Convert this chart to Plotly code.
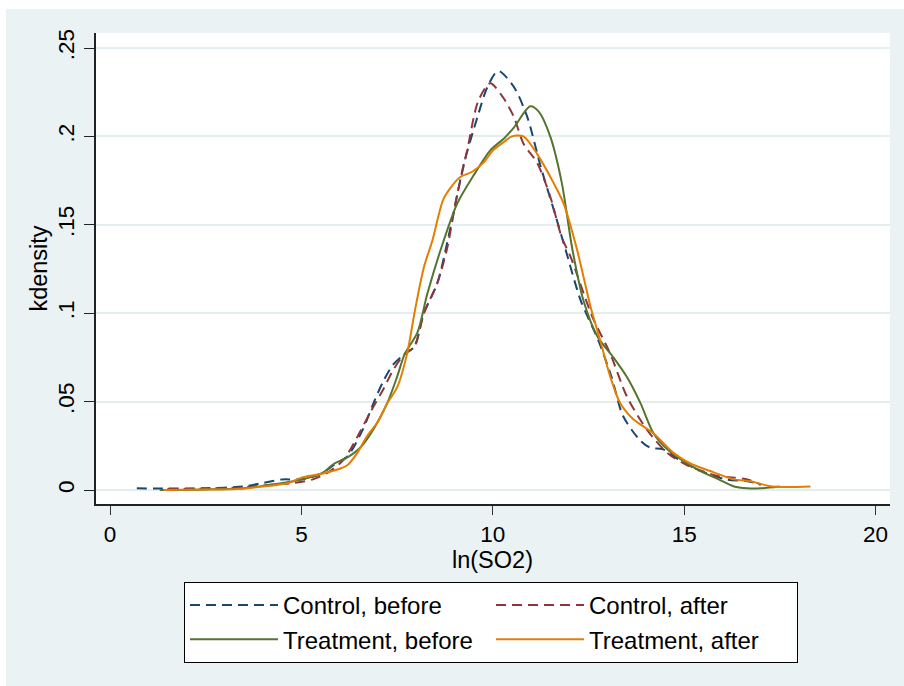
import plotly.graph_objects as go

# ---- data ----
cb_x = [0.7, 1.5, 2.5, 3.5, 4.0, 4.5, 5.0, 5.5, 5.9, 6.2, 6.6, 6.9, 7.15, 7.4, 7.7, 7.95, 8.2, 8.55, 8.9,
        9.25, 9.6, 9.86, 10.14, 10.55, 10.9, 11.25, 11.6, 11.9, 12.3, 12.75, 13.1, 13.4, 13.85, 14.1, 14.45,
        14.8, 15.4, 16.1, 16.65, 17.0]
cb_y = [0.001, 0.0008, 0.001, 0.002, 0.004, 0.006, 0.006, 0.009, 0.015, 0.019, 0.034, 0.05, 0.062, 0.071,
        0.077, 0.081, 0.1, 0.117, 0.149, 0.185, 0.211, 0.228, 0.237, 0.228, 0.211, 0.183, 0.158, 0.136,
        0.107, 0.085, 0.064, 0.042, 0.028, 0.024, 0.023, 0.018, 0.011, 0.006, 0.005, 0.003]

ca_x = [1.5, 2.5, 3.5, 4.2, 4.8, 5.3, 5.7, 6.1, 6.46, 6.8, 7.14, 7.4, 7.7, 7.95, 8.2, 8.55, 8.8, 9.05, 9.33,
        9.62, 9.93, 10.27, 10.55, 10.8, 11.16, 11.5, 11.8, 12.03, 12.6, 13.07, 13.5, 14.03, 14.56, 15.08,
        15.87, 16.3, 16.65, 17.0]
ca_y = [0.0005, 0.0008, 0.0015, 0.003, 0.004, 0.006, 0.01, 0.017, 0.03, 0.044, 0.057, 0.068, 0.077, 0.081,
        0.1, 0.117, 0.136, 0.165, 0.192, 0.22, 0.23, 0.222, 0.211, 0.196, 0.185, 0.166, 0.143, 0.132, 0.098,
        0.077, 0.053, 0.034, 0.021, 0.014, 0.008, 0.007, 0.006, 0.003]

tb_x = [1.3, 2.5, 3.5, 4.2, 4.8, 5.2, 5.57, 5.86, 6.17, 6.54, 6.9, 7.24, 7.5, 7.7, 8.03, 8.29, 8.7, 9.07,
        9.5, 9.93, 10.3, 10.55, 10.98, 11.2, 11.5, 11.8, 12.08, 12.37, 12.73, 13.15, 13.5, 13.86, 14.2,
        14.56, 15.0, 15.4, 15.9, 16.3, 16.65, 17.0, 17.5]
tb_y = [0.0, 0.0003, 0.001, 0.003, 0.005, 0.007, 0.01, 0.015, 0.018, 0.024, 0.035, 0.049, 0.064, 0.077,
        0.089, 0.111, 0.14, 0.162, 0.178, 0.192, 0.199, 0.205, 0.217, 0.214, 0.2, 0.174, 0.136, 0.107,
        0.087, 0.075, 0.064, 0.049, 0.032, 0.023, 0.016, 0.011, 0.006, 0.002, 0.001, 0.001, 0.002]

ta_x = [1.4, 2.5, 3.3, 4.0, 4.66, 5.0, 5.5, 6.0, 6.2, 6.46, 6.7, 6.98, 7.24, 7.5, 7.76, 7.97, 8.2, 8.42,
        8.7, 8.9, 9.15, 9.46, 9.75, 10.0, 10.3, 10.5, 10.8, 11.16, 11.58, 11.85, 12.2, 12.55, 12.8, 13.07,
        13.33, 13.67, 14.2, 14.72, 15.16, 15.77, 16.3, 16.73, 17.3, 18.3]
ta_y = [0.0, 0.0003, 0.0005, 0.002, 0.004, 0.007, 0.009, 0.012, 0.014, 0.021, 0.03, 0.038, 0.049, 0.058,
        0.077, 0.102, 0.126, 0.141, 0.164, 0.171, 0.177, 0.18, 0.185, 0.192, 0.197, 0.2, 0.2, 0.19, 0.174,
        0.162, 0.136, 0.104, 0.085, 0.064, 0.049, 0.04, 0.032, 0.021, 0.015, 0.01, 0.006, 0.005, 0.002,
        0.002]

series_names = ["Control, before", "Control, after", "Treatment, before", "Treatment, after"]
x_ticks = [0, 5, 10, 15, 20]
y_ticks = [0, 0.05, 0.1, 0.15, 0.2, 0.25]
y_ticktext = ["0", ".05", ".1", ".15", ".2", ".25"]
x_title = "ln(SO2)"
y_title = "kdensity"

# ---- styling ----
FONT = "Liberation Sans, Arial, sans-serif"
BG = "#EAF2F3"
colors = ["#1A476F", "#90353B", "#55752F", "#E37E00"]
dashes = ["10px,6px", "10px,6px", "solid", "solid"]

fig = go.Figure()
for (xs, ys), name, c, d in zip([(cb_x, cb_y), (ca_x, ca_y), (tb_x, tb_y), (ta_x, ta_y)],
                                series_names, colors, dashes):
    fig.add_trace(go.Scatter(x=xs, y=ys, mode="lines", name=name,
                             line=dict(color=c, width=2, dash=d, shape="spline", smoothing=0.8)))

W, H = 904, 686
L, R, T, B = 96, 890, 33, 504

fig.update_layout(
    width=W, height=H,
    margin=dict(l=L, r=W - R, t=T, b=H - B, pad=0),
    paper_bgcolor=BG,
    plot_bgcolor="white",
    font=dict(family=FONT, color="black", size=23),
    showlegend=True,
    legend=dict(
        orientation="h",
        xref="container", yref="container",
        x=184 / W, xanchor="left",
        y=1 - 582 / H, yanchor="top",
        bgcolor="white", bordercolor="black", borderwidth=1,
        font=dict(family=FONT, size=24, color="black"),
        itemwidth=88,
        entrywidth=203,
        traceorder="normal",
    ),
    shapes=[
        # thin white border strips at the top and left edges of the image
        dict(type="rect", xref="paper", yref="paper",
             x0=-L / (R - L) - 0.05, x1=(6 - L) / (R - L),
             y0=-1, y1=2, fillcolor="white", line=dict(width=0), layer="above"),
        dict(type="rect", xref="paper", yref="paper",
             x0=-1, x1=2, y0=(B - 9) / (B - T), y1=B / (B - T) + 0.05,
             fillcolor="white", line=dict(width=0), layer="above"),
    ],
    annotations=[
        dict(text=x_title, xref="paper", yref="paper",
             x=(492 - L) / (R - L), y=(B - 560) / (B - T),
             xanchor="center", yanchor="middle", showarrow=False,
             font=dict(family=FONT, size=23.5, color="black")),
    ],
)

fig.update_xaxes(
    range=[(L - 110) / 38.28, (R - 110) / 38.28],
    tickvals=x_ticks, ticktext=[str(v) for v in x_ticks],
    showgrid=False, zeroline=False,
    showline=True, linecolor="#222222", linewidth=1.6,
    ticks="outside", ticklen=9, tickwidth=1.3, tickcolor="#333333",
    tickfont=dict(family=FONT, size=22.5, color="black"),
    ticklabelstandoff=0,
)
fig.update_yaxes(
    range=[-(B - 490) / 1768, (490 - T) / 1768],
    tickvals=y_ticks, ticktext=y_ticktext, tickangle=-90,
    showgrid=True, gridcolor="#E4EDEF", gridwidth=1.5,
    zeroline=False,
    showline=True, linecolor="#222222", linewidth=1.6,
    ticks="outside", ticklen=10, tickwidth=1.3, tickcolor="#222222",
    tickfont=dict(family=FONT, size=22.5, color="black"),
    ticklabelstandoff=1,
    title=dict(text=y_title, font=dict(family=FONT, size=23.5, color="black"), standoff=0),
)

fig.write_html("out.html")
